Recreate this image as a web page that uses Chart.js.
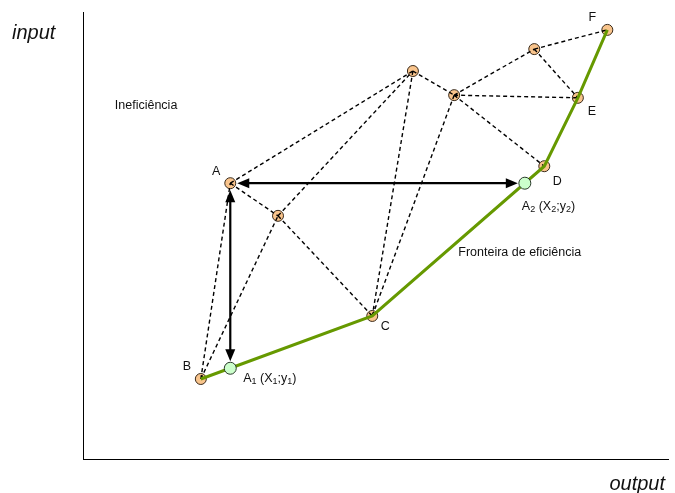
<!DOCTYPE html>
<html>
<head>
<meta charset="utf-8">
<script src="https://cdn.jsdelivr.net/npm/chart.js@4"></script>
<style>
  html, body { margin: 0; padding: 0; background: #ffffff; }
  #wrap { width: 675px; height: 493px; }
</style>
</head>
<body>
<div id="wrap"><canvas id="c" width="675" height="493"></canvas></div>
<script>
// ---- data ----
const pointNames = ['A', 'B', 'C', 'D', 'E', 'F', 'P1', 'P2', 'P3', 'P4'];
const pointX     = [25.0, 20.0, 49.1, 78.3, 84.0, 89.0, 33.1, 56.0, 63.0, 76.6];
const pointY     = [61.7, 17.9, 32.0, 65.5, 80.8, 96.0, 54.4, 86.8, 81.4, 91.7];
const visibleLabels = ['A', 'B', 'C', 'D', 'E', 'F'];

const dashedEdges = [
  ['B', 'A'], ['B', 'P1'], ['A', 'P1'], ['A', 'P2'], ['P1', 'P2'], ['P1', 'C'],
  ['P2', 'C'], ['P3', 'C'], ['P2', 'P3'], ['P3', 'P4'], ['P3', 'E'], ['P3', 'D'],
  ['P4', 'F'], ['P4', 'E']
];
const frontierPath = ['B', 'C', 'D', 'E', 'F'];

const projNames = ['A1', 'A2'];
const projX = [25.0, 75.0];
const projY = [20.3, 61.7];

const axisTitleX = 'output';
const axisTitleY = 'input';
const noteInefficiency = 'Ineficiência';
const noteInefficiencyPos = [5.4, 79.0];
const noteFrontier = 'Fronteira de eficiência';
const noteFrontierPos = [63.7, 46.1];

// ---- helpers ----
function pt(name) {
  const i = pointNames.indexOf(name);
  return { x: pointX[i], y: pointY[i] };
}
const dashedData = [];
dashedEdges.forEach(([a, b]) => {
  dashedData.push(pt(a), pt(b), { x: null, y: null });
});
const frontierData = frontierPath.map(pt);
const markerData = pointNames.map((n, i) => ({ x: pointX[i], y: pointY[i] }));
const projData = projNames.map((n, i) => ({ x: projX[i], y: projY[i] }));

// label offsets in pixels (style only)
const labelOffsets = {
  A: [-14, -12], B: [-14, -12], C: [13, 11], D: [13, 15], E: [14, 14], F: [-15, -12]
};

const FONT = '"Liberation Sans", Arial, sans-serif';
const LABEL_SIZE = 12.5;

function drawRuns(ctx, x, y, runs, size) {
  let cx = x;
  runs.forEach(([t, sub]) => {
    ctx.font = (sub ? Math.round(size * 0.68) : size) + 'px ' + FONT;
    ctx.fillText(t, cx, sub ? y + 3 : y);
    cx += ctx.measureText(t).width;
  });
}

function arrowHead(ctx, tipX, tipY, dx, dy) {
  const len = 12, half = 5;
  const n = Math.hypot(dx, dy);
  const ux = dx / n, uy = dy / n;
  const bx = tipX - ux * len, by = tipY - uy * len;
  ctx.beginPath();
  ctx.moveTo(tipX, tipY);
  ctx.lineTo(bx - uy * half, by + ux * half);
  ctx.lineTo(bx + uy * half, by - ux * half);
  ctx.closePath();
  ctx.fill();
}

function doubleArrow(ctx, x1, y1, x2, y2, trim) {
  const dx = x2 - x1, dy = y2 - y1;
  const n = Math.hypot(dx, dy);
  const ux = dx / n, uy = dy / n;
  const sx = x1 + ux * trim, sy = y1 + uy * trim;
  const ex = x2 - ux * trim, ey = y2 - uy * trim;
  ctx.beginPath();
  ctx.moveTo(sx + ux * 8, sy + uy * 8);
  ctx.lineTo(ex - ux * 8, ey - uy * 8);
  ctx.stroke();
  arrowHead(ctx, ex, ey, ux, uy);
  arrowHead(ctx, sx, sy, -ux, -uy);
}

const annotations = {
  id: 'annotations',
  beforeDatasetsDraw(chart) {
    const { ctx, scales: { x, y } } = chart;
    ctx.save();
    ctx.strokeStyle = '#000';
    ctx.fillStyle = '#000';
    ctx.lineWidth = 2.2;
    const a = pt('A');
    const ax = x.getPixelForValue(a.x), ay = y.getPixelForValue(a.y);
    const a1x = x.getPixelForValue(projX[0]), a1y = y.getPixelForValue(projY[0]);
    const a2x = x.getPixelForValue(projX[1]), a2y = y.getPixelForValue(projY[1]);
    doubleArrow(ctx, ax, ay, a2x, a2y, 7);
    doubleArrow(ctx, a1x, ay, a1x, a1y, 7);
    ctx.restore();
  },
  afterDatasetsDraw(chart) {
    const { ctx, scales: { x, y } } = chart;
    ctx.save();
    ctx.fillStyle = '#111';
    ctx.textBaseline = 'middle';
    ctx.textAlign = 'center';
    ctx.font = LABEL_SIZE + 'px ' + FONT;
    visibleLabels.forEach(n => {
      const p = pt(n);
      const o = labelOffsets[n];
      ctx.fillText(n, x.getPixelForValue(p.x) + o[0], y.getPixelForValue(p.y) + o[1]);
    });
    ctx.textAlign = 'left';
    const a1x = x.getPixelForValue(projX[0]), a1y = y.getPixelForValue(projY[0]);
    drawRuns(ctx, a1x + 13, a1y + 10, [['A', false], ['1', true], [' (X', false], ['1', true], [';y', false], ['1', true], [')', false]], LABEL_SIZE);
    const a2x = x.getPixelForValue(projX[1]), a2y = y.getPixelForValue(projY[1]);
    drawRuns(ctx, a2x - 3, a2y + 23, [['A', false], ['2', true], [' (X', false], ['2', true], [';y', false], ['2', true], [')', false]], LABEL_SIZE);
    ctx.font = LABEL_SIZE + 'px ' + FONT;
    ctx.fillText(noteInefficiency, x.getPixelForValue(noteInefficiencyPos[0]), y.getPixelForValue(noteInefficiencyPos[1]));
    ctx.fillText(noteFrontier, x.getPixelForValue(noteFrontierPos[0]), y.getPixelForValue(noteFrontierPos[1]));
    ctx.font = 'italic 20px ' + FONT;
    ctx.fillText(axisTitleY, 12, 33);
    ctx.textAlign = 'right';
    ctx.fillText(axisTitleX, 665, 484);
    ctx.restore();
  }
};

new Chart(document.getElementById('c'), {
  type: 'scatter',
  data: {
    datasets: [
      {
        label: 'dashed',
        data: dashedData,
        showLine: true,
        spanGaps: false,
        borderColor: '#000',
        borderWidth: 1.4,
        borderDash: [4, 3],
        pointRadius: 0,
        order: 4
      },
      {
        label: 'frontier',
        data: frontierData,
        showLine: true,
        borderColor: '#669900',
        borderWidth: 3,
        pointRadius: 0,
        order: 3
      },
      {
        label: 'DMUs',
        data: markerData,
        showLine: false,
        pointRadius: 5.5,
        pointBackgroundColor: '#F9C48C',
        pointBorderColor: '#3a2a1a',
        pointBorderWidth: 1,
        order: 5
      },
      {
        label: 'projections',
        data: projData,
        showLine: false,
        pointRadius: 6,
        pointBackgroundColor: '#CCFFCC',
        pointBorderColor: '#2a3a2a',
        pointBorderWidth: 1,
        order: 1
      }
    ]
  },
  options: {
    responsive: false,
    animation: false,
    layout: { padding: { left: 75, top: 12, right: 0, bottom: 26 } },
    plugins: { legend: { display: false }, tooltip: { enabled: false } },
    scales: {
      x: {
        type: 'linear', min: 0, max: 99.3,
        grid: { display: false },
        ticks: { display: false },
        border: { display: true, color: '#000', width: 1 }
      },
      y: {
        type: 'linear', min: 0, max: 100,
        grid: { display: false },
        ticks: { display: false },
        border: { display: true, color: '#000', width: 1 }
      }
    }
  },
  plugins: [annotations]
});
</script>
</body>
</html>
